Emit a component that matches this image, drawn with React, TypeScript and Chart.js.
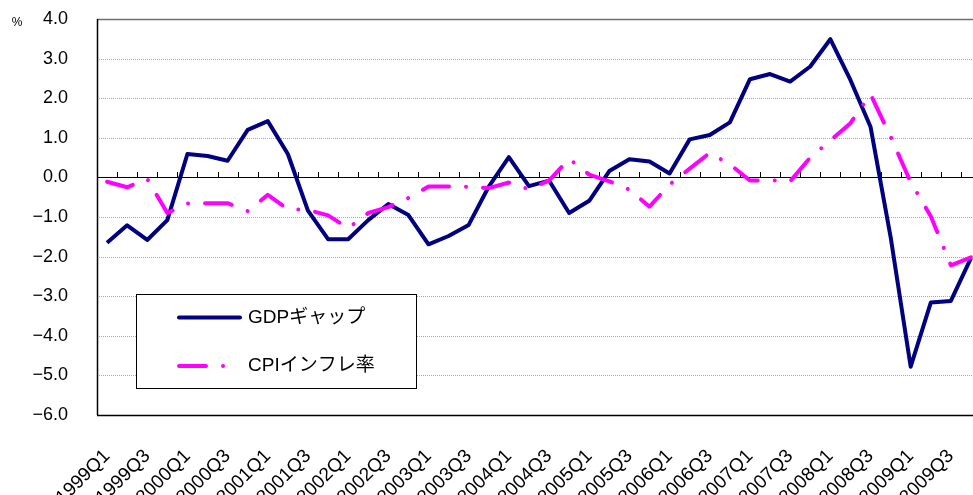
import React, { useEffect, useRef } from 'react';
import { Chart, registerables } from 'chart.js';

Chart.register(...registerables);

const categories = [
  '1999Q1', '1999Q2', '1999Q3', '1999Q4',
  '2000Q1', '2000Q2', '2000Q3', '2000Q4',
  '2001Q1', '2001Q2', '2001Q3', '2001Q4',
  '2002Q1', '2002Q2', '2002Q3', '2002Q4',
  '2003Q1', '2003Q2', '2003Q3', '2003Q4',
  '2004Q1', '2004Q2', '2004Q3', '2004Q4',
  '2005Q1', '2005Q2', '2005Q3', '2005Q4',
  '2006Q1', '2006Q2', '2006Q3', '2006Q4',
  '2007Q1', '2007Q2', '2007Q3', '2007Q4',
  '2008Q1', '2008Q2', '2008Q3', '2008Q4',
  '2009Q1', '2009Q2', '2009Q3', '2009Q4',
];

const gdpGap = [
  -1.65, -1.21, -1.58, -1.08,
  0.59, 0.54, 0.42, 1.2,
  1.42, 0.59, -0.84, -1.56,
  -1.56, -1.08, -0.67, -0.95,
  -1.69, -1.48, -1.2, -0.23,
  0.51, -0.22, -0.08, -0.9,
  -0.59, 0.16, 0.46, 0.4,
  0.1, 0.96, 1.07, 1.39,
  2.48, 2.61, 2.42, 2.8,
  3.49, 2.46, 1.28, -1.5,
  -4.78, -3.16, -3.12, -2.04,
];

const cpiInflation = [
  -0.11, -0.25, -0.04, -0.9,
  -0.66, -0.65, -0.65, -0.85,
  -0.44, -0.8, -0.82, -0.96,
  -1.28, -0.9, -0.75, -0.52,
  -0.23, -0.23, -0.24, -0.27,
  -0.13, -0.3, -0.08, 0.47,
  0.07, -0.1, -0.31, -0.74,
  -0.18, 0.22, 0.62, 0.33,
  -0.08, -0.07, -0.1, 0.5,
  0.93, 1.37, 2.1, 1.03,
  -0.12, -0.98, -2.22, -2.02,
];

const seriesNames = ['GDPギャップ', 'CPIインフレ率'];
const unitLabel = '%';
const yMin = -6;
const yMax = 4;
const yStep = 1;

const FONT = '"Liberation Sans", "Noto Sans CJK JP", Arial, sans-serif';
const NAVY = '#000080';
const MAGENTA = '#ff00ff';
const CPI_DASH = [27, 17, 0.01, 17];

const decorPlugin = {
  id: 'decor',
  beforeDatasetsDraw(chart: any) {
    const ctx = chart.ctx;
    const { left, right, top, bottom } = chart.chartArea;
    const y = chart.scales.y;
    const x = chart.scales.x;
    ctx.save();
    // dotted grid lines
    for (let v = yMin; v <= yMax; v += yStep) {
      if (v === 0 || v === yMax || v === yMin) continue;
      const py = Math.round(y.getPixelForValue(v)) + 0.5;
      ctx.strokeStyle = '#a8a8a8';
      ctx.lineWidth = 1;
      ctx.setLineDash([1, 1]);
      ctx.beginPath();
      ctx.moveTo(left, py);
      ctx.lineTo(right, py);
      ctx.stroke();
    }
    ctx.setLineDash([]);
    // top border
    const pyTop = Math.round(y.getPixelForValue(yMax)) + 0.5;
    ctx.strokeStyle = '#707070';
    ctx.lineWidth = 1.5;
    ctx.beginPath();
    ctx.moveTo(left, pyTop);
    ctx.lineTo(right, pyTop);
    ctx.stroke();
    // zero line
    const py0 = Math.round(y.getPixelForValue(0)) + 0.5;
    ctx.strokeStyle = '#000';
    ctx.lineWidth = 1;
    ctx.beginPath();
    ctx.moveTo(left, py0);
    ctx.lineTo(right, py0);
    ctx.stroke();
    // category tick marks on the zero line
    const n = categories.length;
    for (let k = 1; k < n; k++) {
      const px = Math.round((x.getPixelForValue(k - 1) + x.getPixelForValue(k)) / 2) + 0.5;
      ctx.beginPath();
      ctx.moveTo(px, py0 - 5.5);
      ctx.lineTo(px, py0);
      ctx.stroke();
    }
    // left and bottom borders
    ctx.lineWidth = 1.5;
    ctx.beginPath();
    ctx.moveTo(Math.round(left) + 0.5, top);
    ctx.lineTo(Math.round(left) + 0.5, bottom);
    ctx.stroke();
    const pyB = Math.round(y.getPixelForValue(yMin)) + 0.5;
    ctx.beginPath();
    ctx.moveTo(left, pyB);
    ctx.lineTo(right, pyB);
    ctx.stroke();
    ctx.restore();
  },
  afterDatasetsDraw(chart: any) {
    const ctx = chart.ctx;
    ctx.save();
    // legend box
    const bx = 137, by = 294, bw = 280, bh = 94;
    ctx.fillStyle = '#fff';
    ctx.fillRect(bx, by, bw, bh);
    ctx.strokeStyle = '#000';
    ctx.lineWidth = 1;
    ctx.strokeRect(bx - 0.5, by + 0.5, bw, bh);
    // GDP sample
    ctx.lineCap = 'round';
    ctx.strokeStyle = NAVY;
    ctx.lineWidth = 4;
    ctx.beginPath();
    ctx.moveTo(179, 317.5);
    ctx.lineTo(240, 317.5);
    ctx.stroke();
    // CPI sample
    ctx.strokeStyle = MAGENTA;
    ctx.setLineDash(CPI_DASH);
    ctx.beginPath();
    ctx.moveTo(179, 366);
    ctx.lineTo(228, 366);
    ctx.stroke();
    ctx.setLineDash([]);
    // texts
    ctx.fillStyle = '#000';
    ctx.font = '19px ' + FONT;
    ctx.textAlign = 'left';
    ctx.textBaseline = 'middle';
    ctx.fillText(seriesNames[0], 248, 318);
    ctx.fillText(seriesNames[1], 248, 366);
    // unit label
    ctx.font = '12px ' + FONT;
    ctx.textAlign = 'center';
    ctx.fillText(unitLabel, 17, 23);
    ctx.restore();
  },
};

export default function App() {
  const ref = useRef<HTMLCanvasElement>(null);
  useEffect(() => {
    const chart = new Chart(ref.current as HTMLCanvasElement, {
      type: 'line',
      data: {
        labels: categories,
        datasets: [
          {
            label: seriesNames[1],
            data: cpiInflation,
            borderColor: MAGENTA,
            backgroundColor: MAGENTA,
            borderWidth: 4,
            borderDash: CPI_DASH,
            borderCapStyle: 'round',
            borderJoinStyle: 'round',
            pointRadius: 0,
            tension: 0,
            order: 0,
          },
          {
            label: seriesNames[0],
            data: gdpGap,
            borderColor: NAVY,
            backgroundColor: NAVY,
            borderWidth: 4,
            borderJoinStyle: 'round',
            pointRadius: 0,
            tension: 0,
            order: 1,
          },
        ],
      },
      options: {
        responsive: false,
        animation: false,
        devicePixelRatio: 1,
        layout: { padding: { top: 19, right: 9, bottom: 0, left: 0 } },
        plugins: {
          legend: { display: false },
          tooltip: { enabled: false },
          title: { display: false },
        },
        scales: {
          x: {
            type: 'category',
            offset: true,
            grid: {
              display: true,
              drawOnChartArea: false,
              drawTicks: true,
              tickLength: 30,
              tickColor: 'rgba(0,0,0,0)',
              color: 'rgba(0,0,0,0)',
            },
            border: { display: false },
            ticks: {
              autoSkip: false,
              maxRotation: 45,
              minRotation: 45,
              padding: 0,
              color: '#000',
              font: { family: FONT, size: 19 },
              callback: (_v: any, i: number) => (i % 2 === 0 ? categories[i] : ''),
            },
            afterFit: (scale: any) => {
              scale.height = 80;
            },
          },
          y: {
            min: yMin,
            max: yMax,
            grid: {
              display: true,
              drawOnChartArea: false,
              drawTicks: true,
              tickLength: 29,
              tickColor: 'rgba(0,0,0,0)',
              color: 'rgba(0,0,0,0)',
            },
            border: { display: false },
            ticks: {
              stepSize: yStep,
              padding: 0,
              color: '#000',
              font: { family: FONT, size: 18 },
              callback: (v: any) => (v < 0 ? '\u2212' : '') + Math.abs(Number(v)).toFixed(1),
            },
            afterFit: (scale: any) => {
              scale.width = 97;
            },
          },
        },
      },
      plugins: [decorPlugin],
    });
    return () => chart.destroy();
  }, []);
  return (
    <div
      style={{
        position: 'fixed',
        left: 0,
        top: 0,
        width: 973,
        height: 495,
        overflow: 'hidden',
        background: '#fff',
      }}
    >
      <canvas ref={ref} width={990} height={495} style={{ display: 'block' }} />
    </div>
  );
}
